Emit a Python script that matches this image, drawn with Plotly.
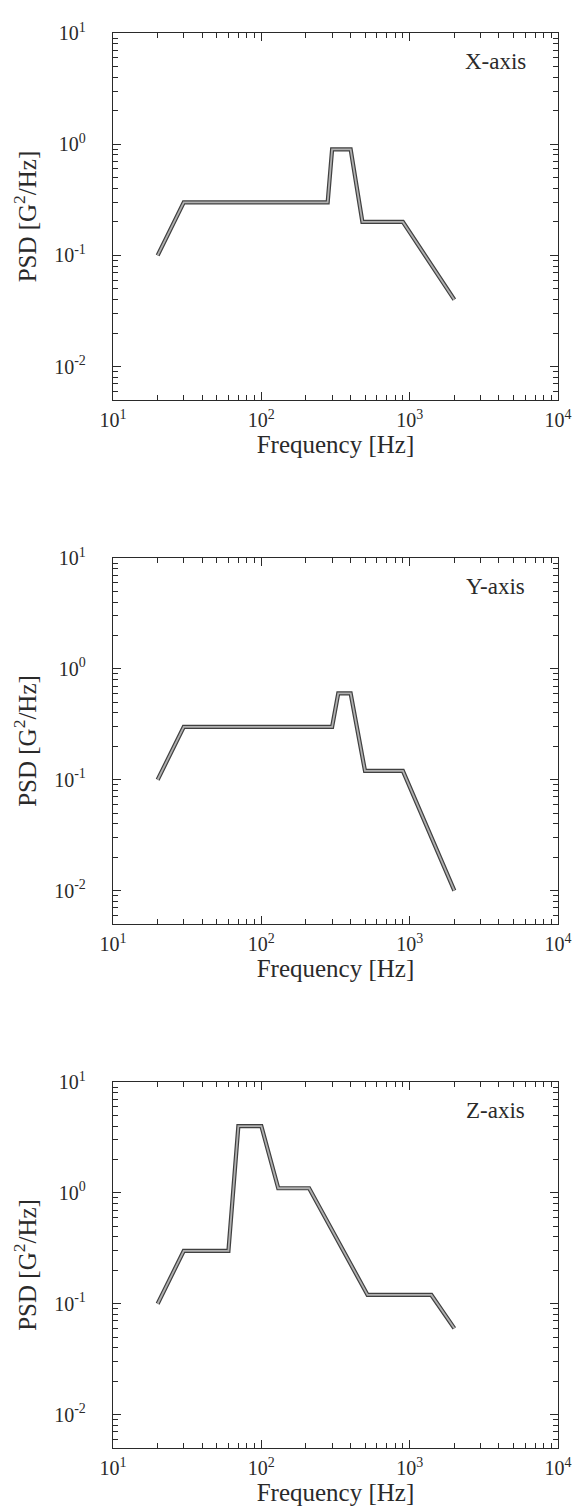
import plotly.graph_objects as go

# Random-vibration PSD test profiles for the three axes (frequency in Hz, PSD in G^2/Hz)
x_freq = [20, 30, 280, 300, 400, 480, 900, 2000]
x_psd = [0.1, 0.3, 0.3, 0.9, 0.9, 0.2, 0.2, 0.04]

y_freq = [20, 30, 300, 330, 400, 500, 900, 2000]
y_psd = [0.1, 0.3, 0.3, 0.6, 0.6, 0.12, 0.12, 0.01]

z_freq = [20, 30, 60, 70, 100, 130, 210, 520, 1400, 2000]
z_psd = [0.1, 0.3, 0.3, 4.0, 4.0, 1.1, 1.1, 0.12, 0.12, 0.06]

panel_names = ["X-axis", "Y-axis", "Z-axis"]

x_major = [10, 100, 1000, 10000]
x_major_text = ["10<sup>1</sup>", "10<sup>2</sup>", "10<sup>3</sup>", "10<sup>4</sup>"]
y_major = [0.01, 0.1, 1, 10]
y_major_text = ["10<sup>-2</sup>", "10<sup>-1</sup>", "10<sup>0</sup>", "10<sup>1</sup>"]

x_minor = [m * d for d in (10, 100, 1000) for m in range(2, 10)]
y_minor = [m * d for d in (0.001, 0.01, 0.1, 1) for m in range(2, 10)]

FONT = "Liberation Serif, Times New Roman, serif"
INK = "#2a2a2a"

fig = go.Figure()

series = [(x_freq, x_psd), (y_freq, y_psd), (z_freq, z_psd)]
domains = [[0.7406, 1.0], [0.3703, 0.6290], [0.0, 0.2587]]

for i, (f, p) in enumerate(series):
    n = "" if i == 0 else str(i + 1)
    # dark outline of the profile line
    fig.add_trace(go.Scatter(x=f, y=p, mode="lines", xaxis="x" + n, yaxis="y" + n,
                             line=dict(color="#404040", width=4.2), showlegend=False,
                             hoverinfo="skip"))
    # light core of the profile line
    fig.add_trace(go.Scatter(x=f, y=p, mode="lines", xaxis="x" + n, yaxis="y" + n,
                             line=dict(color="#b0b0b0", width=1.8), showlegend=False))

    xa = dict(type="log", range=[1, 4], domain=[0, 1], anchor="y" + n,
              tickmode="array", tickvals=x_major, ticktext=x_major_text,
              ticks="inside", ticklen=8, tickwidth=1.2, tickcolor=INK,
              minor=dict(tickmode="array", tickvals=x_minor, ticks="inside",
                         ticklen=5, tickwidth=1, tickcolor=INK),
              showline=True, linecolor=INK, linewidth=1.3, mirror="allticks",
              showgrid=False, zeroline=False, ticklabelstandoff=2,
              tickfont=dict(family=FONT, size=20, color=INK),
              title=dict(text="Frequency [Hz]", font=dict(family=FONT, size=25, color=INK),
                         standoff=2))
    ya = dict(type="log", range=[-2.30103, 1], domain=domains[i], anchor="x" + n,
              tickmode="array", tickvals=y_major, ticktext=y_major_text,
              ticks="inside", ticklen=8, tickwidth=1.2, tickcolor=INK,
              minor=dict(tickmode="array", tickvals=y_minor, ticks="inside",
                         ticklen=5, tickwidth=1, tickcolor=INK),
              showline=True, linecolor=INK, linewidth=1.3, mirror="allticks",
              showgrid=False, zeroline=False, ticklabelstandoff=22,
              tickfont=dict(family=FONT, size=20, color=INK),
              title=dict(text="PSD [G<sup>2</sup>/Hz]", font=dict(family=FONT, size=25, color=INK),
                         standoff=10))
    fig.update_layout({"xaxis" + n: xa, "yaxis" + n: ya})

    fig.add_annotation(text=panel_names[i], xref="x" + n + " domain", yref="y" + n + " domain",
                       x=0.86, y=0.921, showarrow=False, xanchor="center", yanchor="middle",
                       font=dict(family=FONT, size=23, color=INK))

fig.update_layout(width=584, height=1511, margin=dict(l=113, r=14, t=33, b=63),
                  paper_bgcolor="white", plot_bgcolor="white", showlegend=False)

fig.write_html("out.html")
